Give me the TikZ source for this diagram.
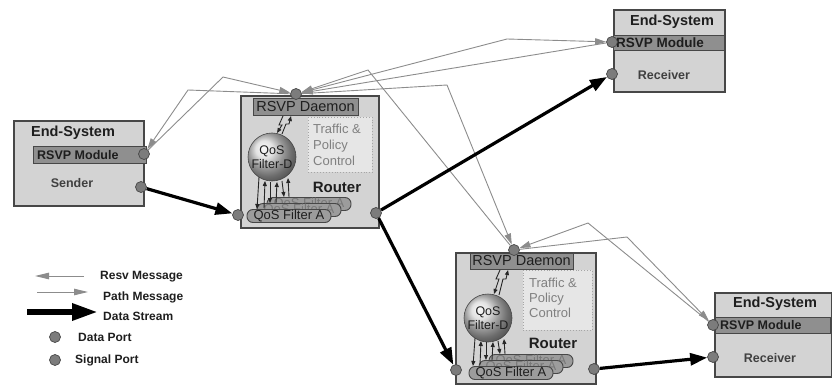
\documentclass[tikz,border=0pt]{standalone}
\usepackage{fontspec}
\setmainfont{Liberation Sans}
\usetikzlibrary{arrows.meta}
\definecolor{boxfill}{HTML}{D3D3D3}
\definecolor{boxline}{HTML}{474747}
\definecolor{barfill}{HTML}{8F8F8F}
\definecolor{portfill}{HTML}{7C7C7C}
\definecolor{msggray}{HTML}{8C8C8C}
\definecolor{tpfill}{HTML}{E6E6E6}
\definecolor{txtdark}{HTML}{1E1E1E}
\definecolor{tubefill}{HTML}{9C9C9C}
\tikzset{
 sysbox/.style={draw=boxline,line width=1.6pt,fill=boxfill,anchor=north west,inner sep=0pt},
 barbox/.style={draw=boxline,line width=1.1pt,fill=barfill,anchor=north west,inner sep=0pt},
 tpbox/.style={draw=gray!70,dotted,line width=0.9pt,fill=tpfill,anchor=north west,inner sep=0pt},
 port/.style={circle,draw=boxline,fill=portfill,line width=0.7pt,minimum size=11pt,inner sep=0pt},
 titletxt/.style={font=\bfseries\fontsize{14.5}{16}\selectfont,text=txtdark,inner sep=0pt},
 modtxt/.style={font=\bfseries\fontsize{12.5}{14}\selectfont,text=txtdark,inner sep=0pt,anchor=west},
 roletxt/.style={font=\bfseries\fontsize{12.5}{14}\selectfont,text=txtdark!85,inner sep=0pt},
 dmntxt/.style={font=\fontsize{14.5}{16}\selectfont,text=txtdark,inner sep=0pt},
 tptxt/.style={font=\fontsize{13}{16}\selectfont,text=gray,align=left,anchor=north west,inner sep=0pt},
 rtrtxt/.style={font=\bfseries\fontsize{15}{17}\selectfont,text=txtdark,inner sep=0pt},
 sphere/.style={circle,minimum size=48pt,inner sep=0pt,ball color=gray!30,draw=boxline,line width=0.6pt,font=\fontsize{12.5}{14}\selectfont,align=center,text=txtdark},
 tube/.style={draw=boxline,line width=0.9pt,fill=tubefill,rounded corners=6pt,minimum width=84pt,minimum height=13pt,inner sep=0pt,font=\fontsize{13}{14}\selectfont,text=txtdark},
 backtube/.style={tube,text=txtdark!60},
 msgarrow/.style={draw=msggray,line width=0.9pt,-{Triangle[length=11pt,width=6.5pt]}},
 streamarrow/.style={draw=black,line width=3.2pt,-{Triangle[length=17pt,width=12pt]}},
 tinyarrow/.style={draw=black!85,line width=0.9pt,-{Triangle[length=5pt,width=4pt]}},
 legtxt/.style={font=\bfseries\fontsize{12}{14}\selectfont,text=txtdark,anchor=west,inner sep=0pt},
}
\begin{document}
\begin{tikzpicture}[x=1pt,y=-1pt]
\useasboundingbox (0,0) rectangle (832,385);

% ---------- Sender end-system ----------
\node[sysbox,minimum width=130pt,minimum height=85pt] (sndbox) at (13,120) {};
\node[barbox,minimum width=113pt,minimum height=17pt] (sndbar) at (33,146) {};
\node[titletxt] (sndtitle) at (73,133) {End-System};
\node[modtxt] (sndmod) at (37,155) {RSVP Module};
\node[roletxt] (sndrole) at (72,183) {Sender};

% ---------- Receiver 1 ----------
\node[sysbox,minimum width=111pt,minimum height=82pt] (c1box) at (613,9) {};
\node[barbox,minimum width=111pt,minimum height=15pt] (c1bar) at (613,35) {};
\node[titletxt] (c1title) at (672,22) {End-System};
\node[modtxt,font=\bfseries\fontsize{13.5}{14}\selectfont] (c1mod) at (616,43) {RSVP Module};
\node[roletxt] (c1role) at (664,75) {Receiver};

% ---------- Receiver 2 ----------
\node[sysbox,minimum width=117pt,minimum height=84pt] (c2box) at (714,292) {};
\node[barbox,minimum width=115pt,minimum height=16pt] (c2bar) at (715,317) {};
\node[titletxt] (c2title) at (775,304) {End-System};
\node[modtxt] (c2mod) at (720,325) {RSVP Module};
\node[roletxt] (c2role) at (770,358) {Receiver};

% ---------- Router 1 ----------
\node[sysbox,minimum width=138pt,minimum height=132pt] (r1box) at (240,95) {};
\node[barbox,minimum width=105pt,minimum height=17pt] (r1bar) at (253,98) {};
\node[dmntxt] (r1dmn) at (305.5,106.5) {RSVP Daemon};
\node[tpbox,minimum width=64pt,minimum height=55pt] (r1tp) at (308,117) {};
\node[tptxt] (r1tptxt) at (313,124) {Traffic \&\\Policy\\Control};
\node[rtrtxt] (r1name) at (337,187) {Router};
\node[sphere] (r1qd) at (272,157) {QoS\\Filter-D};
\node[backtube] (r1ta3) at (309,204) {QoS Filter A};
\node[backtube] (r1ta2) at (299,210) {QoS Filter A};
\node[tube] (r1ta1) at (289,216) {QoS Filter A};
\draw[tinyarrow] (283,116) -- (279,125) -- (282,125) -- (277,133);
\draw[tinyarrow] (282,134) -- (286,124) -- (289,124) -- (291,116);
\draw[tinyarrow] (259,177) -- (257,209);
\draw[tinyarrow] (264,208) -- (265,181);
\draw[tinyarrow] (270,182) -- (270,203);
\draw[tinyarrow] (276,203) -- (277,182);
\draw[tinyarrow] (282,181) -- (284,197);
\draw[tinyarrow] (289,197) -- (288,178);

% ---------- Router 2 ----------
\node[sysbox,minimum width=140pt,minimum height=131pt] (r2box) at (455,252) {};
\node[barbox,minimum width=103pt,minimum height=16pt] (r2bar) at (470,253) {};
\node[dmntxt] (r2dmn) at (521.5,261) {RSVP Daemon};
\node[tpbox,minimum width=69pt,minimum height=60pt] (r2tp) at (523,270) {};
\node[tptxt,font=\fontsize{13}{15}\selectfont] (r2tptxt) at (529,278) {Traffic \&\\Policy\\Control};
\node[rtrtxt] (r2name) at (553,343) {Router};
\node[sphere] (r2qd) at (488,318) {QoS\\Filter-D};
\node[backtube] (r2ta3) at (531,361) {QoS Filter A};
\node[backtube] (r2ta2) at (521,367) {QoS Filter A};
\node[tube] (r2ta1) at (511,373) {QoS Filter A};
\draw[tinyarrow] (500,270) -- (496,279) -- (499,279) -- (494,294);
\draw[tinyarrow] (499,295) -- (503,279) -- (506,279) -- (508,270);
\draw[tinyarrow] (475,338) -- (473,366);
\draw[tinyarrow] (480,365) -- (481,341);
\draw[tinyarrow] (486,342) -- (486,360);
\draw[tinyarrow] (492,360) -- (493,342);
\draw[tinyarrow] (498,341) -- (500,354);
\draw[tinyarrow] (505,354) -- (504,339);

% ---------- Ports ----------
\node[port] (s1sig) at (144,154) {};
\node[port] (s1dat) at (141,187) {};
\node[port] (r1sig) at (296,94) {};
\node[port] (r1l) at (238,215) {};
\node[port] (r1r) at (376,213) {};
\node[port] (r2sig) at (514,250) {};
\node[port] (r2l) at (456,370) {};
\node[port] (r2r) at (594,369) {};
\node[port] (c1sig) at (612,42) {};
\node[port] (c1dat) at (612,74) {};
\node[port] (c2sig) at (713,325) {};
\node[port] (c2dat) at (713,357) {};

% ---------- Signalling messages ----------
\coordinate (b1) at (188,90);
\coordinate (b2) at (223,77);
\coordinate (b3) at (507,39);
\coordinate (b4) at (447,85);
\coordinate (b5) at (368,70);
\coordinate (b6) at (627,237);
\coordinate (b7) at (588,223);
\draw[msgarrow] (s1sig) -- (b2) -- (r1sig);
\draw[msgarrow] (r1sig) -- (b1) -- (s1sig);
\draw[msgarrow] (r1sig) -- (b3) -- (c1sig);
\draw[msgarrow] (c1sig) -- (r1sig);
\draw[msgarrow] (r1sig) -- (b4) -- (r2sig);
\draw[msgarrow] (r2sig) -- (b5) -- (r1sig);
\draw[msgarrow] (r2sig) -- (b6) -- (c2sig);
\draw[msgarrow] (c2sig) -- (b7) -- (r2sig);

% ---------- Data streams ----------
\draw[streamarrow] (s1dat) -- (r1l);
\draw[streamarrow] (r1r) -- (c1dat);
\draw[streamarrow] (r1r) -- (r2l);
\draw[streamarrow] (r2r) -- (c2dat);

% ---------- Legend ----------
\coordinate (lr1) at (84,276);
\coordinate (lr2) at (35,276);
\coordinate (lp1) at (37,292);
\coordinate (lp2) at (88,292);
\coordinate (ld1) at (27,312);
\coordinate (ld2) at (98,312);
\draw[msgarrow,-{Triangle[length=14pt,width=6.5pt]}] (lr1) -- (lr2);
\draw[msgarrow,-{Triangle[length=14pt,width=6.5pt]}] (lp1) -- (lp2);
\draw[draw=black,line width=6pt,-{Triangle[length=26pt,width=16pt]}] (ld1) -- (ld2);
\node[legtxt] (lresv) at (100,277) {Resv Message};
\node[legtxt] (lpath) at (103,297) {Path Message};
\node[legtxt] (lds) at (103,316) {Data Stream};
\node[port] (ldp) at (55,337) {};
\node[legtxt] (ldptxt) at (78,337) {Data Port};
\node[port] (lsp) at (55,360) {};
\node[legtxt] (lsptxt) at (75,360) {Signal Port};
\end{tikzpicture}
\end{document}
